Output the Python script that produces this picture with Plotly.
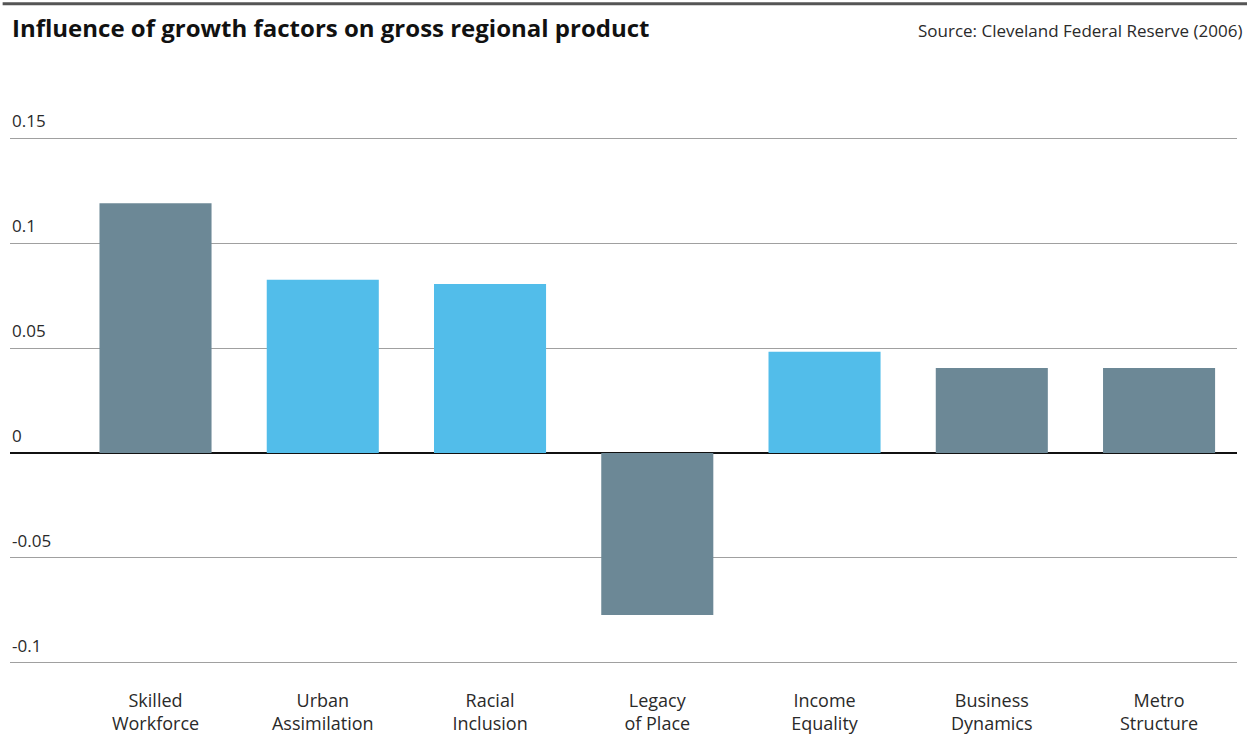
import plotly.graph_objects as go

# Regression coefficients of each growth factor on gross regional product
categories = ["Skilled<br>Workforce", "Urban<br>Assimilation", "Racial<br>Inclusion",
              "Legacy<br>of Place", "Income<br>Equality", "Business<br>Dynamics",
              "Metro<br>Structure"]
values = [0.119, 0.0825, 0.0805, -0.0772, 0.0482, 0.0405, 0.0405]
groups = ["dark", "light", "light", "dark", "light", "dark", "dark"]

y_tickvals = [0.15, 0.1, 0.05, 0, -0.05, -0.1]
y_ticktext = ["0.15", "0.1", "0.05", "0", "-0.05", "-0.1"]

palette = {"dark": "#6c8896", "light": "#52bdea"}

FONT = "Open Sans"
TEXT = "#2a2a2a"

fig = go.Figure(
    go.Bar(
        x=categories,
        y=values,
        width=0.67,
        marker=dict(color=[palette[g] for g in groups], line=dict(width=0)),
        hoverinfo="x+y",
    )
)

# y tick labels sit on top of their gridlines, at the left edge
tick_annotations = [
    dict(text=t, xref="paper", yref="y", x=0, y=v, xanchor="left", yanchor="bottom",
         yshift=4, showarrow=False, font=dict(family=FONT, size=17, color=TEXT))
    for v, t in zip(y_tickvals, y_ticktext)
]

fig.update_layout(
    width=1247,
    height=738,
    margin=dict(l=10, r=10, t=137, b=74),
    paper_bgcolor="white",
    plot_bgcolor="white",
    showlegend=False,
    font=dict(family=FONT, size=17, color=TEXT),
    xaxis=dict(
        type="category",
        range=[-0.870, 6.466],
        showgrid=False,
        showline=False,
        ticks="",
        tickfont=dict(family=FONT, size=18, color=TEXT),
        ticklabelstandoff=24,
        automargin=False,
        fixedrange=True,
    ),
    yaxis=dict(
        range=[-0.1005, 0.1505],
        tickvals=y_tickvals,
        showticklabels=False,
        showgrid=True,
        gridcolor="#a0a0a0",
        gridwidth=1,
        zeroline=True,
        zerolinecolor="#111111",
        zerolinewidth=2,
        showline=False,
        ticks="",
        automargin=False,
        fixedrange=True,
    ),
    shapes=[
        dict(type="line", xref="paper", yref="paper", x0=-0.006, x1=1.01,
             y0=1.253, y1=1.253, line=dict(color="#555555", width=3)),
    ],
    annotations=tick_annotations + [
        dict(text="<b>Influence of growth factors on gross regional product</b>",
             xref="paper", yref="paper", x=0, y=1.243, xanchor="left", yanchor="top",
             showarrow=False, font=dict(family=FONT, size=24, color="#111111")),
        dict(text="Source: Cleveland Federal Reserve (2006)",
             xref="paper", yref="paper", x=0.738, y=1.228, xanchor="left", yanchor="top",
             showarrow=False, font=dict(family=FONT, size=17, color=TEXT)),
    ],
)

fig.write_html("out.html")
